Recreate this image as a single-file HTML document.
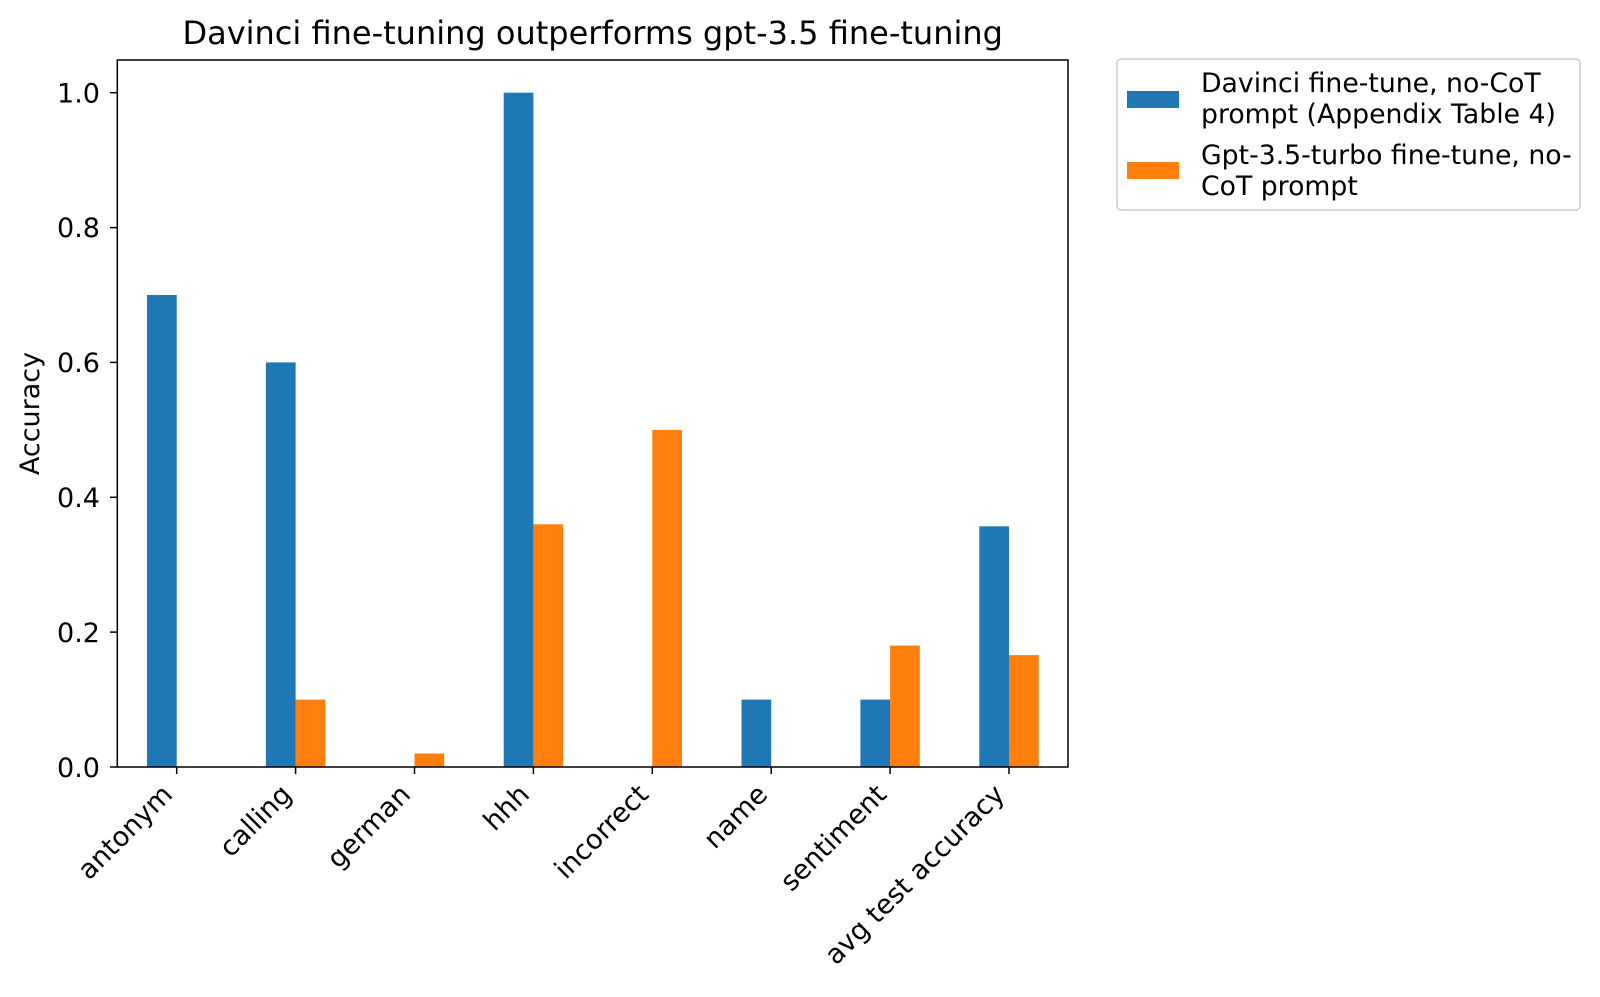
<!DOCTYPE html>
<html><head><style>body{margin:0;background:#fff}</style></head><body>
<svg width="1600" height="992" xmlns="http://www.w3.org/2000/svg" font-family="'DejaVu Sans','Liberation Sans',sans-serif" fill="#000">
<rect width="1600" height="992" fill="#fff"/>
<text x="592.7" y="44" font-size="32" text-anchor="middle">Davinci fine-tuning outperforms gpt-3.5 fine-tuning</text>
<g fill="#1f77b4">
<rect x="147" y="295" width="29.7" height="472"/>
<rect x="265.9" y="362.4" width="29.7" height="404.6"/>
<rect x="503.7" y="92.7" width="29.7" height="674.3"/>
<rect x="741.5" y="699.6" width="29.7" height="67.4"/>
<rect x="860.4" y="699.6" width="29.7" height="67.4"/>
<rect x="979.3" y="526.3" width="29.7" height="240.7"/>
</g>
<g fill="#ff7f0e">
<rect x="295.6" y="699.6" width="29.7" height="67.4"/>
<rect x="414.5" y="753.5" width="29.7" height="13.5"/>
<rect x="533.4" y="524.3" width="29.7" height="242.7"/>
<rect x="652.3" y="429.9" width="29.7" height="337.1"/>
<rect x="890.1" y="645.6" width="29.7" height="121.4"/>
<rect x="1009" y="655.1" width="29.7" height="111.9"/>
</g>
<rect x="117.3" y="60" width="950.7" height="707" fill="none" stroke="#000" stroke-width="1.5"/>
<g stroke="#000" stroke-width="1.5">
<line x1="110" y1="767" x2="117.3" y2="767"/><line x1="110" y1="632.1" x2="117.3" y2="632.1"/><line x1="110" y1="497.3" x2="117.3" y2="497.3"/><line x1="110" y1="362.4" x2="117.3" y2="362.4"/><line x1="110" y1="227.6" x2="117.3" y2="227.6"/><line x1="110" y1="92.7" x2="117.3" y2="92.7"/>
<line x1="176.7" y1="767" x2="176.7" y2="774"/><line x1="295.6" y1="767" x2="295.6" y2="774"/><line x1="414.5" y1="767" x2="414.5" y2="774"/><line x1="533.4" y1="767" x2="533.4" y2="774"/><line x1="652.3" y1="767" x2="652.3" y2="774"/><line x1="771.2" y1="767" x2="771.2" y2="774"/><line x1="890.1" y1="767" x2="890.1" y2="774"/><line x1="1009" y1="767" x2="1009" y2="774"/>
</g>
<g font-size="27" text-anchor="end">
<text x="100" y="777">0.0</text><text x="100" y="642">0.2</text><text x="100" y="507">0.4</text><text x="100" y="372">0.6</text><text x="100" y="237">0.8</text><text x="100" y="102.7">1.0</text>
</g>
<text transform="translate(39,413.5) rotate(-90)" font-size="27" text-anchor="middle">Accuracy</text>
<g font-size="27" text-anchor="end">
<text transform="translate(174,796) rotate(-45)">antonym</text>
<text transform="translate(293,796) rotate(-45)">calling</text>
<text transform="translate(412,796) rotate(-45)">german</text>
<text transform="translate(531,796) rotate(-45)">hhh</text>
<text transform="translate(650,796) rotate(-45)">incorrect</text>
<text transform="translate(769,796) rotate(-45)">name</text>
<text transform="translate(888,796) rotate(-45)">sentiment</text>
<text transform="translate(1006,796) rotate(-45)">avg test accuracy</text>
</g>
<rect x="1117" y="59" width="463" height="151" rx="4" fill="#fff" stroke="#ccc" stroke-width="1.5"/>
<rect x="1127" y="91" width="52" height="17" fill="#1f77b4"/>
<rect x="1127" y="162" width="52" height="17" fill="#ff7f0e"/>
<g font-size="26.7">
<text x="1201" y="92">Davinci fine-tune, no-CoT</text>
<text x="1201" y="123">prompt (Appendix Table 4)</text>
<text x="1201" y="164">Gpt-3.5-turbo fine-tune, no-</text>
<text x="1201" y="195">CoT prompt</text>
</g>
</svg>
</body></html>
